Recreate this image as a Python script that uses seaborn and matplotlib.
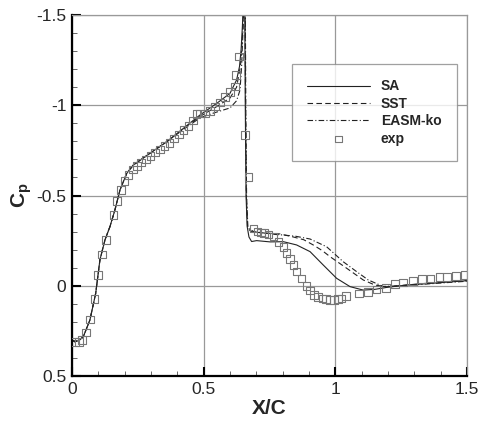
import numpy as np
import pandas as pd
import matplotlib
matplotlib.use("Agg")
import matplotlib.pyplot as plt
import seaborn as sns
from matplotlib.ticker import MultipleLocator, FuncFormatter

# SA (solid)
sa_x = [0.000, 0.010, 0.025, 0.043, 0.068, 0.090, 0.106, 0.125, 0.144, 0.163,
        0.182, 0.208, 0.233, 0.296, 0.360, 0.423, 0.486, 0.550, 0.600, 0.625,
        0.636, 0.642, 0.647, 0.652, 0.656, 0.658, 0.661, 0.665, 0.672, 0.682,
        0.701, 0.752, 0.803, 0.853, 0.904, 0.954, 1.005, 1.056, 1.106, 1.150,
        1.200, 1.271, 1.398, 1.500]
sa_cp = [0.300, 0.310, 0.305, 0.282, 0.190, 0.042, -0.143, -0.253, -0.327, -0.420,
         -0.530, -0.623, -0.669, -0.734, -0.798, -0.872, -0.946, -1.011, -1.066, -1.140,
         -1.214, -1.306, -1.435, -1.600, -1.600, -1.000, -0.500, -0.330, -0.270, -0.245,
         -0.250, -0.243, -0.244, -0.226, -0.189, -0.115, -0.041, 0.005, 0.024, 0.020,
         0.008, -0.004, -0.017, -0.028]

# SST (dashed)
sst_x = [0.000, 0.010, 0.025, 0.043, 0.068, 0.090, 0.106, 0.125, 0.144, 0.163,
         0.182, 0.208, 0.233, 0.296, 0.360, 0.423, 0.486, 0.550, 0.600, 0.625,
         0.640, 0.648, 0.653, 0.657, 0.659, 0.662, 0.667, 0.680, 0.714, 0.790,
         0.841, 0.880, 0.916, 0.950, 0.980, 1.043, 1.106, 1.150, 1.195, 1.300,
         1.400, 1.500]
sst_cp = [0.300, 0.310, 0.305, 0.282, 0.190, 0.042, -0.143, -0.253, -0.327, -0.420,
          -0.530, -0.623, -0.669, -0.734, -0.798, -0.870, -0.938, -0.993, -1.040, -1.100,
          -1.220, -1.400, -1.600, -1.600, -1.000, -0.500, -0.320, -0.300, -0.294, -0.287,
          -0.270, -0.255, -0.226, -0.195, -0.161, -0.097, -0.032, -0.004, 0.006, -0.008,
          -0.020, -0.030]

# EASM-ko (dash-dot)
easm_x = [0.000, 0.010, 0.025, 0.043, 0.068, 0.090, 0.106, 0.125, 0.144, 0.163,
          0.182, 0.208, 0.233, 0.296, 0.360, 0.423, 0.486, 0.540, 0.600, 0.625,
          0.638, 0.644, 0.649, 0.654, 0.658, 0.660, 0.663, 0.668, 0.690, 0.765,
          0.803, 0.850, 0.904, 0.967, 1.030, 1.081, 1.125, 1.182, 1.250, 1.350,
          1.500]
easm_cp = [0.300, 0.310, 0.305, 0.282, 0.190, 0.042, -0.143, -0.253, -0.327, -0.420,
           -0.530, -0.623, -0.669, -0.734, -0.798, -0.866, -0.930, -0.958, -0.985, -1.025,
           -1.084, -1.214, -1.400, -1.600, -1.600, -1.000, -0.500, -0.320, -0.300, -0.285,
           -0.281, -0.274, -0.259, -0.216, -0.133, -0.078, -0.032, 0.004, 0.000, -0.010,
           -0.025]

# experiment (squares)
exp_x = [0.011, 0.027, 0.039, 0.054, 0.068, 0.085, 0.098, 0.113, 0.128, 0.158,
         0.172, 0.186, 0.199, 0.214, 0.231, 0.246, 0.262, 0.280, 0.298, 0.316,
         0.334, 0.352, 0.370, 0.388, 0.406, 0.424, 0.442, 0.460, 0.473, 0.486,
         0.505, 0.524, 0.543, 0.562, 0.581, 0.600, 0.619, 0.623, 0.635, 0.657,
         0.670, 0.689, 0.704, 0.717, 0.729, 0.746, 0.765, 0.784, 0.803, 0.815,
         0.828, 0.841, 0.853, 0.872, 0.891, 0.904, 0.919, 0.935, 0.952, 0.965,
         0.980, 0.995, 1.011, 1.024, 1.041, 1.091, 1.125, 1.157, 1.193, 1.227,
         1.258, 1.294, 1.328, 1.362, 1.395, 1.425, 1.458, 1.493]
exp_cp = [0.310, 0.310, 0.300, 0.260, 0.186, 0.075, -0.061, -0.174, -0.253, -0.392,
          -0.471, -0.530, -0.580, -0.615, -0.645, -0.665, -0.683, -0.700, -0.718, -0.738,
          -0.755, -0.774, -0.792, -0.815, -0.838, -0.862, -0.885, -0.915, -0.950, -0.955,
          -0.955, -0.968, -0.992, -1.015, -1.047, -1.075, -1.103, -1.168, -1.269, -0.835,
          -0.604, -0.318, -0.300, -0.294, -0.291, -0.285, -0.272, -0.244, -0.216, -0.180,
          -0.147, -0.115, -0.078, -0.041, 0.001, 0.027, 0.051, 0.064, 0.070, 0.075,
          0.079, 0.079, 0.075, 0.070, 0.057, 0.042, 0.033, 0.020, 0.011, -0.010,
          -0.019, -0.026, -0.036, -0.041, -0.047, -0.050, -0.054, -0.060]

sns.set_theme(style="white")
plt.rcParams["font.family"] = ["Liberation Sans", "DejaVu Sans"]
plt.rcParams["mathtext.fontset"] = "custom"
plt.rcParams["mathtext.rm"] = "Liberation Sans"
plt.rcParams["mathtext.bf"] = "Liberation Sans:bold"

fig = plt.figure(figsize=(4.8, 4.23), dpi=100)
ax = fig.add_axes([72 / 480, 47 / 423, 395 / 480, 361 / 423])

line_col = "#222222"
sns.lineplot(x=sa_x, y=sa_cp, sort=False, estimator=None, ax=ax,
             color=line_col, lw=0.8, label="SA")
sns.lineplot(x=sst_x, y=sst_cp, sort=False, estimator=None, ax=ax,
             color=line_col, lw=0.8, label="SST")
ax.lines[-1].set_dashes([5, 3])
sns.lineplot(x=easm_x, y=easm_cp, sort=False, estimator=None, ax=ax,
             color=line_col, lw=0.8, label="EASM-ko")
ax.lines[-1].set_dashes([5, 2, 1, 2])
sns.scatterplot(x=exp_x, y=exp_cp, ax=ax, marker="s", s=30,
                facecolor="none", edgecolor="#777777", linewidth=0.8,
                label="exp", zorder=3)

ax.set_xlim(0, 1.5)
ax.set_ylim(0.5, -1.5)
ax.xaxis.set_major_locator(MultipleLocator(0.5))
ax.yaxis.set_major_locator(MultipleLocator(0.5))
ax.xaxis.set_minor_locator(MultipleLocator(0.1))
ax.yaxis.set_minor_locator(MultipleLocator(0.1))
ax.xaxis.set_major_formatter(FuncFormatter(lambda v, p: f"{v:g}"))
ax.yaxis.set_major_formatter(FuncFormatter(lambda v, p: f"{v:g}"))

ax.grid(True, which="major", color="#999999", lw=0.9)
ax.tick_params(which="major", direction="in", length=6.5, width=1.5,
               color="black", labelsize=12.5, pad=4,
               bottom=True, left=True, top=False, right=False)
ax.tick_params(which="minor", direction="in", length=3.5, width=0.7,
               color="#666666", bottom=True, left=True, top=False, right=False)

for side in ["left", "bottom"]:
    ax.spines[side].set_color("black")
    ax.spines[side].set_linewidth(1.6)
for side in ["top", "right"]:
    ax.spines[side].set_color("#999999")
    ax.spines[side].set_linewidth(0.9)

ax.set_xlabel("X/C", fontsize=15, fontweight="bold", labelpad=2)
ax.set_ylabel(r"$\mathbf{C_p}$", fontsize=15, labelpad=2)

leg = ax.legend(loc="upper left", bbox_to_anchor=(0.557, 0.864),
                prop={"weight": "bold", "size": 10},
                frameon=True, fancybox=False, edgecolor="#888888",
                handlelength=4.5, handletextpad=0.8, borderpad=1.1,
                labelspacing=0.25, borderaxespad=0, markerscale=0.8)
leg.get_frame().set_linewidth(0.9)

fig.savefig("out.png", dpi=100)
